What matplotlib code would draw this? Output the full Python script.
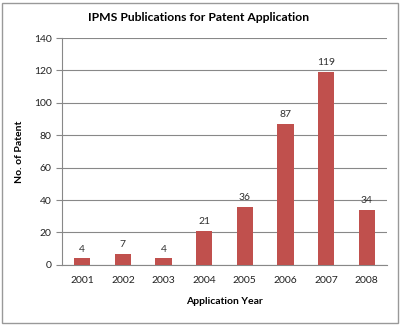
import numpy as np
import matplotlib.pyplot as plt
from matplotlib.patches import Rectangle

years = ['2001', '2002', '2003', '2004', '2005', '2006', '2007', '2008']
patents = [4, 7, 4, 21, 36, 87, 119, 34]

plt.rcParams['font.family'] = ['Lato', 'DejaVu Sans']

fig = plt.figure(figsize=(4, 3.25), dpi=100)
ax = fig.add_axes([0.155, 0.185, 0.8125, 0.698])

x = np.arange(len(years))
bars = ax.bar(x, patents, width=0.4, color='#C0504D', zorder=3)
for xi, v in zip(x, patents):
    ax.text(xi, v + 3, str(v), ha='center', va='bottom', fontsize=7.5, color='#303030')

ax.set_xlim(-0.5, len(years) - 0.5)
ax.set_ylim(0, 140)
ax.set_yticks(np.arange(0, 141, 20))
ax.set_xticks(x)
ax.set_xticklabels(years)
ax.yaxis.grid(True, color='#888888', linewidth=0.8, zorder=0)

for s in ['top', 'right']:
    ax.spines[s].set_visible(False)
ax.spines['left'].set_color('#888888')
ax.spines['bottom'].set_color('#888888')
ax.tick_params(axis='y', labelsize=7.5, colors='#888888', labelcolor='#222222', length=4, width=0.8)
ax.tick_params(axis='x', labelsize=7.5, length=0, pad=8, labelcolor='#222222')

fig.text(0.497, 0.945, 'IPMS Publications for Patent Application', ha='center', va='center',
         fontsize=8.7, fontweight='bold')
ax.set_xlabel('Application Year', fontsize=7.5, fontweight='bold', labelpad=9)
ax.set_ylabel('No. of Patent', fontsize=7.5, fontweight='bold', labelpad=7)

# thin frame around the whole chart
fig.patches.append(Rectangle((0.004, 0.006), 0.992, 0.985, transform=fig.transFigure,
                             fill=False, edgecolor='#999999', linewidth=1))

fig.savefig('out.png', dpi=100)
